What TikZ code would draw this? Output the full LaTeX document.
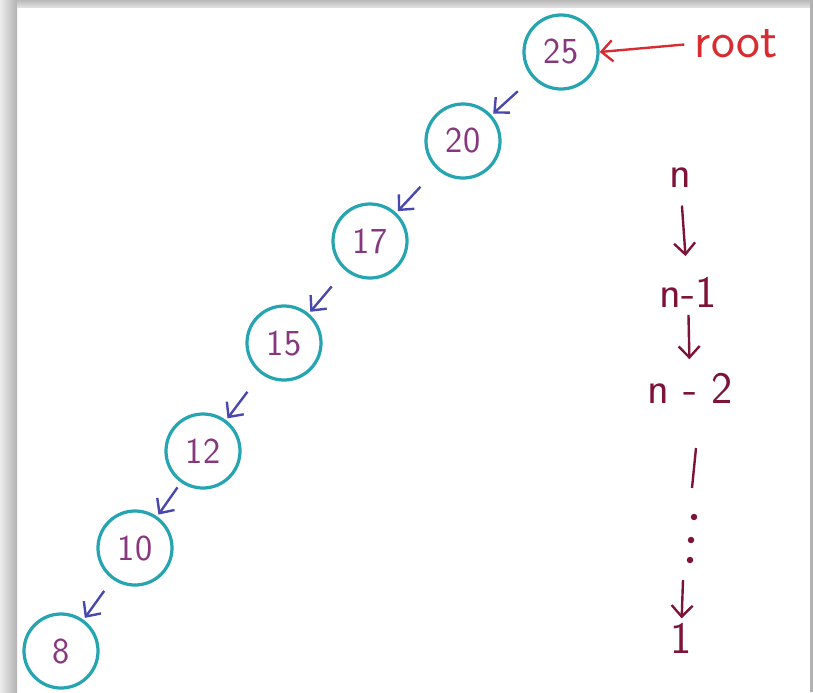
\documentclass[tikz,border=0pt]{standalone}
\usepackage{fontspec}
\usetikzlibrary{arrows.meta,calc}
\definecolor{ringteal}{RGB}{38,165,176}
\definecolor{keyplum}{RGB}{135,55,125}
\definecolor{linkblue}{RGB}{72,72,175}
\definecolor{rootred}{RGB}{215,45,50}
\definecolor{inkwine}{RGB}{125,20,55}
\tikzset{key/.style={circle, draw=ringteal, line width=2.3pt, minimum size=1.85cm, inner sep=0pt, text=keyplum, font=\fontsize{26}{26}\selectfont\sffamily},
  link/.style={linkblue, line width=1.7pt, -{Straight Barb[length=8pt,width=15pt]}},
  count/.style={text=inkwine, inner sep=1pt, font=\fontsize{32}{32}\selectfont\sffamily},
  countarrow/.style={inkwine, line width=1.7pt, -{Straight Barb[length=8pt,width=15pt]}, shorten <=0.4cm, shorten >=0.48cm}}

\begin{document}
\begin{tikzpicture}[x=0.025cm, y=-0.025cm]
  \useasboundingbox (0,0) rectangle (813,692);
  % shadow round the sheet
  \fill[left color=gray!15, right color=gray!60] (0,0) rectangle (17,692);
  \fill[top color=gray!55, bottom color=gray!25] (17,0) rectangle (813,7);
  \fill[gray!60] (810,0) rectangle (813,692);

  % the chain of keys
  \node[key] (n25) at (561, 52) {25};
  \node[key] (n20) at (463,141) {20};
  \node[key] (n17) at (370,241) {17};
  \node[key] (n15) at (284,343) {15};
  \node[key] (n12) at (203,451) {12};
  \node[key] (n10) at (135,548) {10};
  \node[key] (n8)  at ( 61,651) {8};

  \draw[link] ($(n20.center)!1.85cm!(n25.center)$) -- ($(n20.center)!1.02cm!(n25.center)$);
  \draw[link] ($(n17.center)!1.85cm!(n20.center)$) -- ($(n17.center)!1.02cm!(n20.center)$);
  \draw[link] ($(n15.center)!1.85cm!(n17.center)$) -- ($(n15.center)!1.02cm!(n17.center)$);
  \draw[link] ($(n12.center)!1.85cm!(n15.center)$) -- ($(n12.center)!1.02cm!(n15.center)$);
  \draw[link] ($(n10.center)!1.85cm!(n12.center)$) -- ($(n10.center)!1.02cm!(n12.center)$);
  \draw[link] ($(n8.center)!1.85cm!(n10.center)$) -- ($(n8.center)!1.02cm!(n10.center)$);

  % pointer to the root
  \node[text=rootred, font=\fontsize{36}{36}\selectfont\sffamily, anchor=west] (root) at (690,44) {root};
  \draw[rootred, line width=1.7pt, -{Straight Barb[length=8pt,width=15pt]}, shorten <=4pt] (root.west) -- (n25.east);

  % height of the chain
  \node[count] (h0) at (680,178) {n};
  \node[count] (h1) at (688,292) {n-1};
  \node[count] (h2) at (690,388) {n - 2};
  \node[count] (h3) at (681,638) {1};
  \draw[countarrow] (h0) -- (h1);
  \draw[countarrow, shorten <=0.15cm, shorten >=0.3cm] (h1) -- (h2);
  \coordinate (bar) at (696,448);
  \draw[inkwine, line width=1.7pt] (bar) -- ++(-4,40);
  \foreach \y/\x in {517/694, 540/691, 560/690}
    \fill[inkwine] (\x,\y) circle (2.3pt);
  \coordinate (last) at (683,580);
  \draw[countarrow, shorten <=0pt, shorten >=2pt] (last) -- (h3);
\end{tikzpicture}
\end{document}
